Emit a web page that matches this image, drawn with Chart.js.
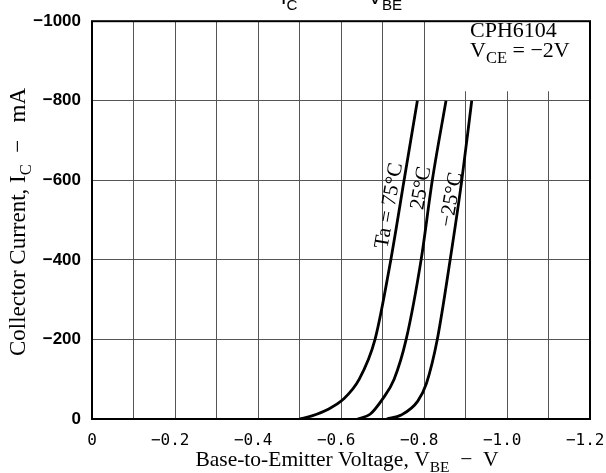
<!DOCTYPE html>
<html>
<head>
<meta charset="utf-8">
<script src="https://cdn.jsdelivr.net/npm/chart.js@4.4.1/dist/chart.umd.min.js"></script>
<style>
  html, body { margin: 0; padding: 0; background: #fff; }
  #wrap { width: 606px; height: 473px; }
</style>
</head>
<body>
<div id="wrap"><canvas id="chart" width="606" height="473"></canvas></div>
<script>
// curves: V_BE (V) vs I_C (mA)
const vbe75 = [-0.50, -0.53, -0.568, -0.606, -0.644, -0.682, -0.72, -0.752, -0.784];
const ic75  = [0, -8, -24, -50, -100, -200, -400, -600, -800];
const vbe25 = [-0.64, -0.67, -0.70, -0.728, -0.757, -0.793, -0.82, -0.853];
const ic25  = [0, -12, -50, -100, -200, -400, -600, -800];
const vbeM25 = [-0.71, -0.745, -0.785, -0.806, -0.832, -0.863, -0.891, -0.915];
const icM25  = [0, -10, -45, -90, -200, -400, -600, -800];

const xTicks = [0, -0.2, -0.4, -0.6, -0.8, -1.0, -1.2];
const yTicks = [0, -200, -400, -600, -800, -1000];

// curve labels: [text, V_BE, I_C]
const curveLabels = [
  ['Ta = 75°C', -0.713, -537],
  ['25°C', -0.790, -581],
  ['\u221225°C', -0.863, -552]
];

function pts(xs, ys) {
  return xs.map(function (x, i) { return { x: x, y: ys[i] }; });
}

// draws text runs [text, isSub]; align 'center' or 'left'
function drawRuns(ctx, x, y, runs, size, family, align, subScale) {
  const ss = subScale || 0.72;
  let w = 0;
  runs.forEach(function (r) {
    ctx.font = (r[1] ? size * ss : size) + 'px ' + family;
    w += ctx.measureText(r[0]).width;
  });
  let cx = align === 'left' ? x : x - w / 2;
  ctx.textAlign = 'left';
  ctx.textBaseline = 'alphabetic';
  runs.forEach(function (r) {
    ctx.font = (r[1] ? size * ss : size) + 'px ' + family;
    ctx.fillText(r[0], cx, r[1] ? y + size * 0.28 : y);
    cx += ctx.measureText(r[0]).width;
  });
}

const extras = {
  id: 'extras',
  afterDraw: function (chart) {
    const ctx = chart.ctx;
    const a = chart.chartArea;
    const sx = chart.scales.x, sy = chart.scales.y;
    const serif = '"Liberation Serif", "Times New Roman", serif';
    const sans = '"Liberation Sans", sans-serif';
    ctx.save();
    // white box behind the device note
    ctx.fillStyle = '#fff';
    ctx.fillRect(452, a.top, a.right - 452, 70);
    ctx.strokeStyle = '#000';
    ctx.lineWidth = 2;
    ctx.strokeRect(a.left, a.top, a.right - a.left, a.bottom - a.top);
    ctx.fillStyle = '#000';

    // top title (cut off at the top edge)
    drawRuns(ctx, 289, 4, [['I', false], ['C', true]], 21, sans);
    drawRuns(ctx, 385, 4, [['V', false], ['BE', true]], 21, sans);

    // axis titles
    drawRuns(ctx, 347, 466, [['Base-to-Emitter Voltage, V', false], ['BE', true], ['  \u2212  V', false]], 21.5, serif);
    ctx.save();
    ctx.translate(25, 222);
    ctx.rotate(-Math.PI / 2);
    drawRuns(ctx, 0, 0, [['Collector Current, I', false], ['C', true], ['\u2002\u2212\u2002 mA', false]], 23, serif);
    ctx.restore();

    // device note
    ctx.font = '22px ' + serif;
    ctx.textAlign = 'left';
    ctx.fillText('CPH6104', 470, 37);
    drawRuns(ctx, 470, 57, [['V', false], ['CE', true], [' = \u22122V', false]], 22, serif, 'left', 0.75);

    // curve labels
    curveLabels.forEach(function (c) {
      ctx.save();
      ctx.translate(sx.getPixelForValue(c[1]), sy.getPixelForValue(c[2]));
      ctx.rotate(-80 * Math.PI / 180);
      drawRuns(ctx, 0, 7, [[c[0], false]], 21, serif);
      ctx.restore();
    });
    ctx.restore();
  }
};

const lineStyle = {
  showLine: true,
  pointRadius: 0,
  borderColor: '#000',
  borderWidth: 2.8,
  cubicInterpolationMode: 'monotone',
  fill: false
};

new Chart(document.getElementById('chart'), {
  type: 'scatter',
  data: {
    datasets: [
      Object.assign({ label: 'Ta=75°C', data: pts(vbe75, ic75) }, lineStyle),
      Object.assign({ label: '25°C', data: pts(vbe25, ic25) }, lineStyle),
      Object.assign({ label: '-25°C', data: pts(vbeM25, icM25) }, lineStyle)
    ]
  },
  options: {
    responsive: false,
    animation: false,
    layout: { padding: { top: 16, right: 16, left: 0, bottom: 0 } },
    plugins: { legend: { display: false }, tooltip: { enabled: false } },
    scales: {
      x: {
        type: 'linear',
        min: -1.2,
        max: 0,
        reverse: true,
        afterFit: function (s) { s.height = 54; s.paddingLeft = 0; s.paddingRight = 0; },
        grid: { color: '#555', lineWidth: 1, drawTicks: false },
        border: { display: false },
        ticks: {
          stepSize: 0.1,
          autoSkip: false,
          maxRotation: 0,
          padding: 12,
          color: '#000',
          font: { family: '"DejaVu Sans Mono", monospace', size: 16 },
          callback: function (v) {
            const r = Math.round(v * 10);
            if (!xTicks.some(function (t) { return Math.round(t * 10) === r; })) return '';
            if (r === 0) return '0';
            return '\u2212' + (Math.abs(r) / 10).toFixed(1) + '\u2002';
          }
        }
      },
      y: {
        min: -1000,
        max: 0,
        reverse: true,
        afterFit: function (s) { s.width = 92; },
        grid: { color: '#555', lineWidth: 1, drawTicks: false },
        border: { display: false },
        ticks: {
          stepSize: 200,
          padding: 11,
          color: '#000',
          font: { family: '"Liberation Sans", sans-serif', size: 17, weight: 'bold' },
          callback: function (v) {
            if (!yTicks.includes(v)) return '';
            return v === 0 ? '0' : '\u2212' + Math.abs(v);
          }
        }
      }
    }
  },
  plugins: [extras]
});
</script>
</body>
</html>
